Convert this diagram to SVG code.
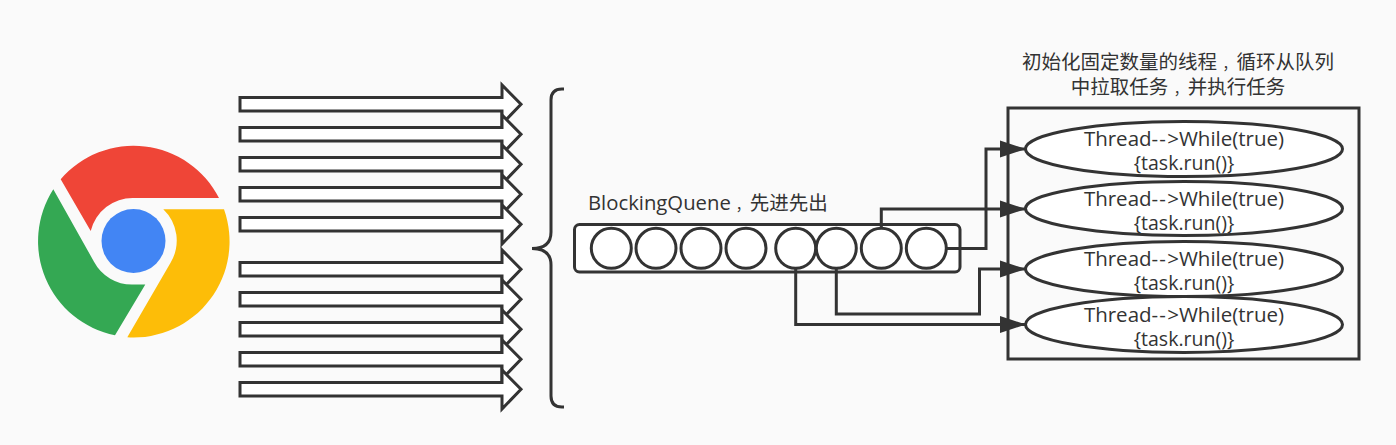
<svg xmlns="http://www.w3.org/2000/svg" width="1396" height="445" viewBox="0 0 1396 445">
<style>
.l{fill:none;stroke:#333;stroke-width:3}
.n{fill:#fff;stroke:#333;stroke-width:3}
.a{fill:#fff;stroke:#333;stroke-width:3;stroke-linejoin:miter}
text{font-family:"Open Sans","Noto Sans CJK SC",sans-serif;font-size:19.5px;fill:#333;text-anchor:middle}
.c{font-size:14px}
.h{font-size:20.5px}
.d{letter-spacing:1.200px}
.b{font-size:20.300px}
</style>
<defs>
<marker id="ah" markerUnits="userSpaceOnUse" markerWidth="28" markerHeight="20" refX="26" refY="10" orient="auto"><path d="M0 1.500L26 10L0 18.500Z" fill="#333"/></marker>
<path id="big" d="M240 97.500H502V85L521 104.300L502 124V111H240Z"/>
</defs>
<rect width="1396" height="445" fill="#fafafa"/>
<g id="chrome">
<path d="M60.700 179.300A96 96 0 0 1 219 198H133.300A43 43 0 0 0 90.700 231Z" fill="#ef4537"/>
<path d="M163.300 209.300H224A96 96 0 0 1 127.300 337.300L170.700 262.500A43 43 0 0 0 163.300 209.300Z" fill="#fdbd08"/>
<path d="M53.300 189.300L94 261.700A43 43 0 0 0 133 284.500H145.300L115 335.300A96 96 0 0 1 53.300 189.300Z" fill="#34a853"/>
<circle cx="133.500" cy="241" r="32" fill="#4285f4"/>
</g>
<g id="requests">
<use href="#big" class="a"/>
<use href="#big" class="a" y="30"/>
<use href="#big" class="a" y="60"/>
<use href="#big" class="a" y="90"/>
<use href="#big" class="a" y="120"/>
<use href="#big" class="a" y="165"/>
<use href="#big" class="a" y="195"/>
<use href="#big" class="a" y="225"/>
<use href="#big" class="a" y="255"/>
<use href="#big" class="a" y="285"/>
</g>
<g id="brace"><path class="l" d="M564 89H562Q551 89 551 100V232Q551 248.500 532 248.500Q551 248.500 551 265V396Q551 407 562 407H564"/></g>
<g id="queue">
<text x="588" y="210" style="text-anchor:start"><tspan class="b">BlockingQuene</tspan><tspan class="c" dx="5">，</tspan>先进先出</text>
<rect class="n" x="574.500" y="224.500" width="385.500" height="47.500" rx="5"/>
<circle class="n" cx="611.300" cy="248.300" r="20"/>
<circle class="n" cx="656" cy="248.300" r="20"/>
<circle class="n" cx="701" cy="248.300" r="20"/>
<circle class="n" cx="746" cy="248.300" r="20"/>
<circle class="n" cx="795.700" cy="248.300" r="20"/>
<circle class="n" cx="836.300" cy="248.300" r="20"/>
<circle class="n" cx="881.300" cy="248.300" r="20"/>
<circle class="n" cx="926.300" cy="248.300" r="20"/>
</g>
<g id="pool">
<text x="1178" y="69">初始化固定数量的线程<tspan class="c" dx="5.500">，</tspan>循环从队列<tspan x="1178" y="94">中拉取任务</tspan><tspan class="c" dx="5.500">，</tspan>并执行任务</text>
<rect class="l" x="1008" y="108" width="351" height="251"/>
</g>
<g id="t1"><ellipse class="n" cx="1184" cy="149" rx="158.500" ry="27.500"/><text x="1184" y="146" class="h">Thread<tspan class="d">--</tspan>&gt;While(true)<tspan x="1184" y="170" style="font-size:19.500px">{task.run()}</tspan></text></g>
<g id="t2"><ellipse class="n" cx="1184" cy="208.500" rx="158.500" ry="27"/><text x="1184" y="206" class="h">Thread<tspan class="d">--</tspan>&gt;While(true)<tspan x="1184" y="230" style="font-size:19.500px">{task.run()}</tspan></text></g>
<g id="t3"><ellipse class="n" cx="1184" cy="269" rx="158.500" ry="27.500"/><text x="1184" y="266" class="h">Thread<tspan class="d">--</tspan>&gt;While(true)<tspan x="1184" y="290" style="font-size:19.500px">{task.run()}</tspan></text></g>
<g id="t4"><ellipse class="n" cx="1184" cy="324.500" rx="158.500" ry="28"/><text x="1184" y="322" class="h">Thread<tspan class="d">--</tspan>&gt;While(true)<tspan x="1184" y="346" style="font-size:19.500px">{task.run()}</tspan></text></g>
<g id="connectors">
<path class="l" marker-end="url(#ah)" d="M946 248.500H986V149H1026"/>
<path class="l" marker-end="url(#ah)" d="M881.300 228V209H1026"/>
<path class="l" marker-end="url(#ah)" d="M836.300 268V314H979.500V269H1026"/>
<path class="l" marker-end="url(#ah)" d="M795.700 268V324.500H1026"/>
</g>
</svg>
